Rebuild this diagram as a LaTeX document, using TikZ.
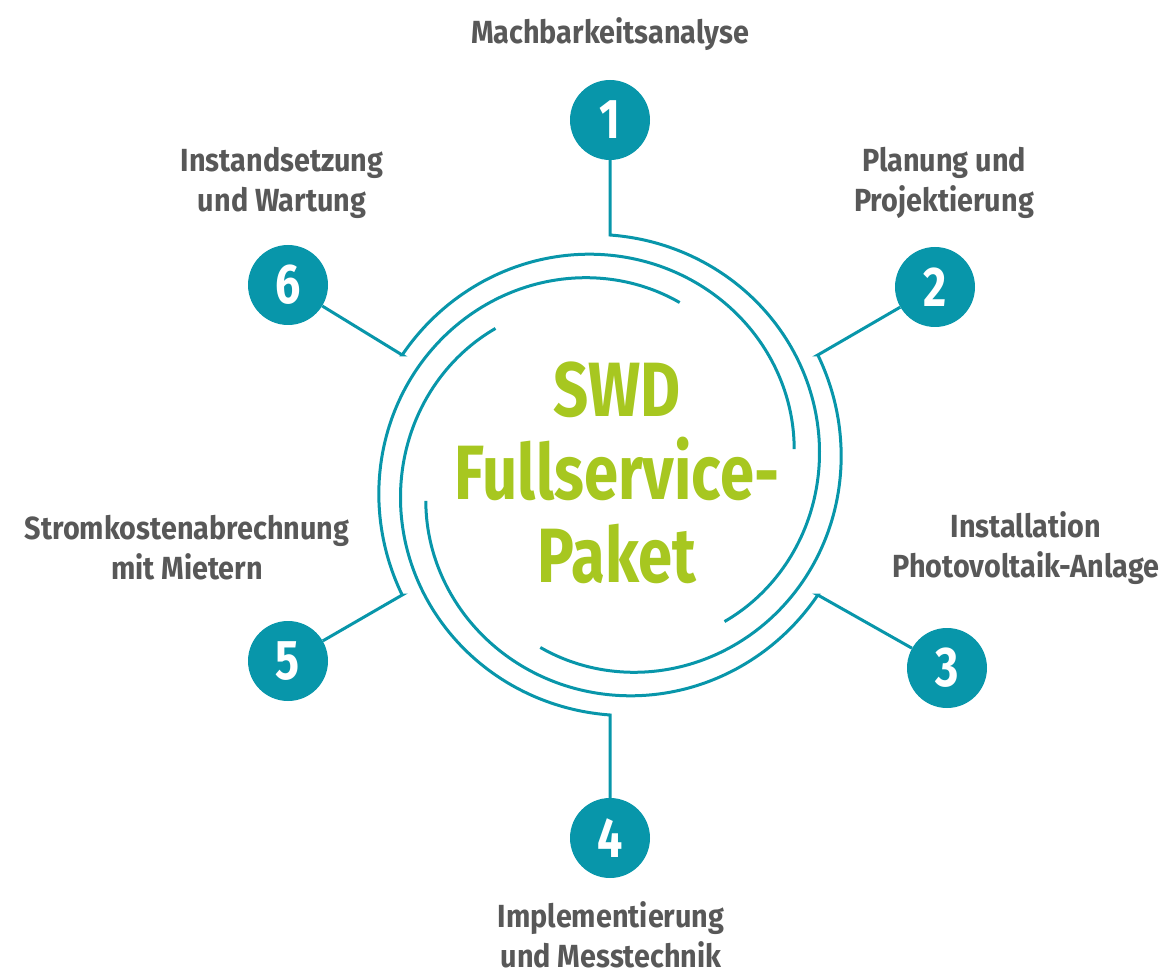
\documentclass[tikz,border=0pt]{standalone}
\usepackage{fontspec}
\setmainfont{Fira Sans}[FakeStretch=0.8]
\newfontfamily\descfont{Fira Sans}[FakeStretch=0.9]
\definecolor{swdteal}{RGB}{8,150,170}
\definecolor{swdgreen}{RGB}{167,199,32}
\definecolor{swdgray}{RGB}{88,88,88}
\tikzset{
  num/.style={circle, fill=swdteal, minimum size=80pt, inner sep=0pt,
    text=white, font=\fontsize{56}{56}\selectfont\bfseries},
  desc/.style={align=center, text=swdgray,
    font=\descfont\fontsize{32}{40}\selectfont\bfseries},
  ring/.style={draw=swdteal, line width=3pt},
  declare function={ringr(\t)=240-54*(\t/142)*(0.8+0.2*\t/142);}
}
\begin{document}
\begin{tikzpicture}[x=1pt, y=-1pt]
      \useasboundingbox (0,0) rectangle (1163,973);
      % centre
      \node[align=center, text=swdgreen, font=\fontsize{77}{83}\selectfont\bfseries]
        (title) at (617,473) {SWD\\Fullservice-\\Paket};
      % numbered steps
      \node[num] (n1) at (610,120) {1};
      \node[num] (n2) at (935,287) {2};
      \node[num] (n3) at (947,668) {3};
      \node[num] (n4) at (610,838) {4};
      \node[num] (n5) at (288,661) {5};
      \node[num] (n6) at (288,285) {6};
      % step texts
      \node[desc] (l1) at (610,34) {Machbarkeitsanalyse};
      \node[desc] (l2) at (944,183) {Planung und\\Projektierung};
      \node[desc] (l3) at (1026,548) {Installation\\Photovoltaik-Anlage};
      \node[desc, inner sep=0pt, anchor=south] (l4) at (611,968) {Implementierung\\und Messtechnik};
      \node[desc] (l5) at (187,548) {Stromkostenabrechnung\\mit Mietern};
      \node[desc] (l6) at (282,183) {Instandsetzung\\und Wartung};
      % junctions on the ring
      \coordinate (j1) at (610,235);
      \coordinate (j2) at (817.8,355);
      \coordinate (j3) at (817.8,595);
      \coordinate (j4) at (610,715);
      \coordinate (j5) at (402.2,595);
      \coordinate (j6) at (402.2,355);
      % connectors and arcs
      \draw[ring] (n1) -- (j1) -- plot[domain=0:142, samples=80, smooth]
        ({610+ringr(\x)*cos(90-\x)}, {475-ringr(\x)*sin(90-\x)});
      \draw[ring] (n2) -- (j2) -- plot[domain=0:142, samples=80, smooth]
        ({610+ringr(\x)*cos(30-\x)}, {475-ringr(\x)*sin(30-\x)});
      \draw[ring] (n3) -- (j3) -- plot[domain=0:142, samples=80, smooth]
        ({610+ringr(\x)*cos(-30-\x)}, {475-ringr(\x)*sin(-30-\x)});
      \draw[ring] (n4) -- (j4) -- plot[domain=0:142, samples=80, smooth]
        ({610+ringr(\x)*cos(-90-\x)}, {475-ringr(\x)*sin(-90-\x)});
      \draw[ring] (n5) -- (j5) -- plot[domain=0:142, samples=80, smooth]
        ({610+ringr(\x)*cos(-150-\x)}, {475-ringr(\x)*sin(-150-\x)});
      \draw[ring] (n6) -- (j6) -- plot[domain=0:142, samples=80, smooth]
        ({610+ringr(\x)*cos(150-\x)}, {475-ringr(\x)*sin(150-\x)});
    \end{tikzpicture}
\end{document}
